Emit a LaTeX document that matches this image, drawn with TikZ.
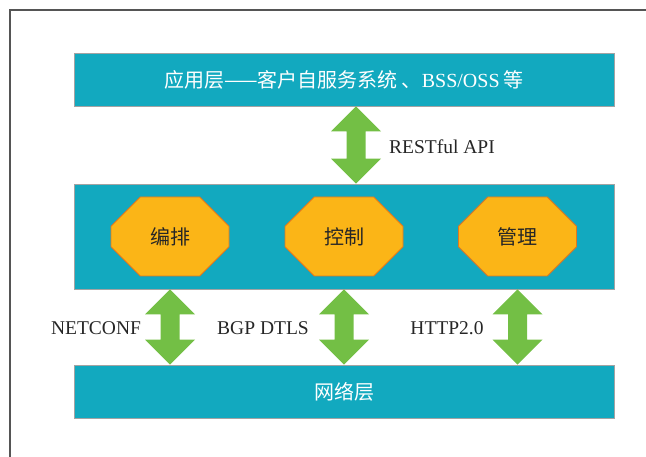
\documentclass[tikz,border=0pt]{standalone}
\usepackage{fontspec}
\setmainfont{Liberation Serif}
\newfontfamily\cjk{Noto Sans CJK SC}
\usetikzlibrary{shapes.misc,calc}

\definecolor{layerteal}{HTML}{12A9BF}
\definecolor{layeredge}{HTML}{A3A3A3}
\definecolor{modfill}{HTML}{FBB517}
\definecolor{modedge}{HTML}{E0771F}
\definecolor{arrgreen}{HTML}{73BF45}
\definecolor{framegray}{HTML}{555555}
\definecolor{labelgray}{HTML}{262626}

\tikzset{
  layer/.style={draw=layeredge, line width=0.9pt, fill=layerteal,
    minimum width=540pt, inner sep=0pt, text=white,
    font=\fontsize{20}{23}\selectfont},
  module/.style={chamfered rectangle, chamfered rectangle xsep=21pt,
    chamfered rectangle ysep=23pt, draw=modedge, line width=0.9pt,
    fill=modfill, minimum width=118pt, minimum height=79pt, inner sep=0pt,
    text=labelgray, font=\cjk\fontsize{20}{23}\selectfont},
  plabel/.style={text=labelgray, font=\fontsize{19.5}{22}\selectfont, inner sep=0pt},
  arrowbody/.style={fill=arrgreen}
}

% vertical two-headed block arrow between coordinate #1 (top) and #2 (bottom)
\newcommand\twohead[2]{%
  \fill[arrowbody] let \p1=(#1), \p2=(#2) in
    (\x1,\y1) -- (\x1+25pt,\y1-25pt) -- (\x1+9.5pt,\y1-25pt)
    -- (\x1+9.5pt,\y2+25pt) -- (\x1+25pt,\y2+25pt) -- (\x2,\y2)
    -- (\x1-25pt,\y2+25pt) -- (\x1-9.5pt,\y2+25pt)
    -- (\x1-9.5pt,\y1-25pt) -- (\x1-25pt,\y1-25pt) -- cycle;}

\begin{document}
\begin{tikzpicture}[x=1pt,y=-1pt]
\useasboundingbox (0,0) rectangle (646,457);

% frame edges
\draw[framegray, line width=1.2pt] (10,457) -- (10,10) -- (646,10);

% layers
\node[layer, minimum height=53pt] (app) at (344,79.5)
  {{\cjk 应用层——客户自服务系统}\hspace{4pt}{\cjk 、}BSS/OSS\hspace{4pt}{\cjk 等}};
\node[layer, minimum height=105pt] (ctrl) at (344,236.5) {};
\node[layer, minimum height=53pt] (net) at (344,391.5) {\cjk 网络层};

% modules of the control layer
\node[module] (orch) at (170,236.5) {编排};
\node[module] (ctl)  at (344,236.5) {控制};
\node[module] (mgmt) at (517.5,236.5) {管理};

% arrow anchor points
\coordinate (r1) at ([xshift=12pt]app.south);
\coordinate (r2) at ([xshift=12pt]ctrl.north);
\coordinate (n1) at (orch |- ctrl.south);
\coordinate (n2) at (orch |- net.north);
\coordinate (b1) at (ctl |- ctrl.south);
\coordinate (b2) at (ctl |- net.north);
\coordinate (h1) at (mgmt |- ctrl.south);
\coordinate (h2) at (mgmt |- net.north);

\twohead{r1}{r2}
\twohead{n1}{n2}
\twohead{b1}{b2}
\twohead{h1}{h2}

% interface labels
\node[plabel] (lrest) at (442,147) {RESTful API};
\node[plabel] (lnet)  at (96,328) {NETCONF};
\node[plabel] (lbgp)  at (263,328) {BGP DTLS};
\node[plabel] (lhttp) at (447,328) {HTTP2.0};
\end{tikzpicture}
\end{document}
